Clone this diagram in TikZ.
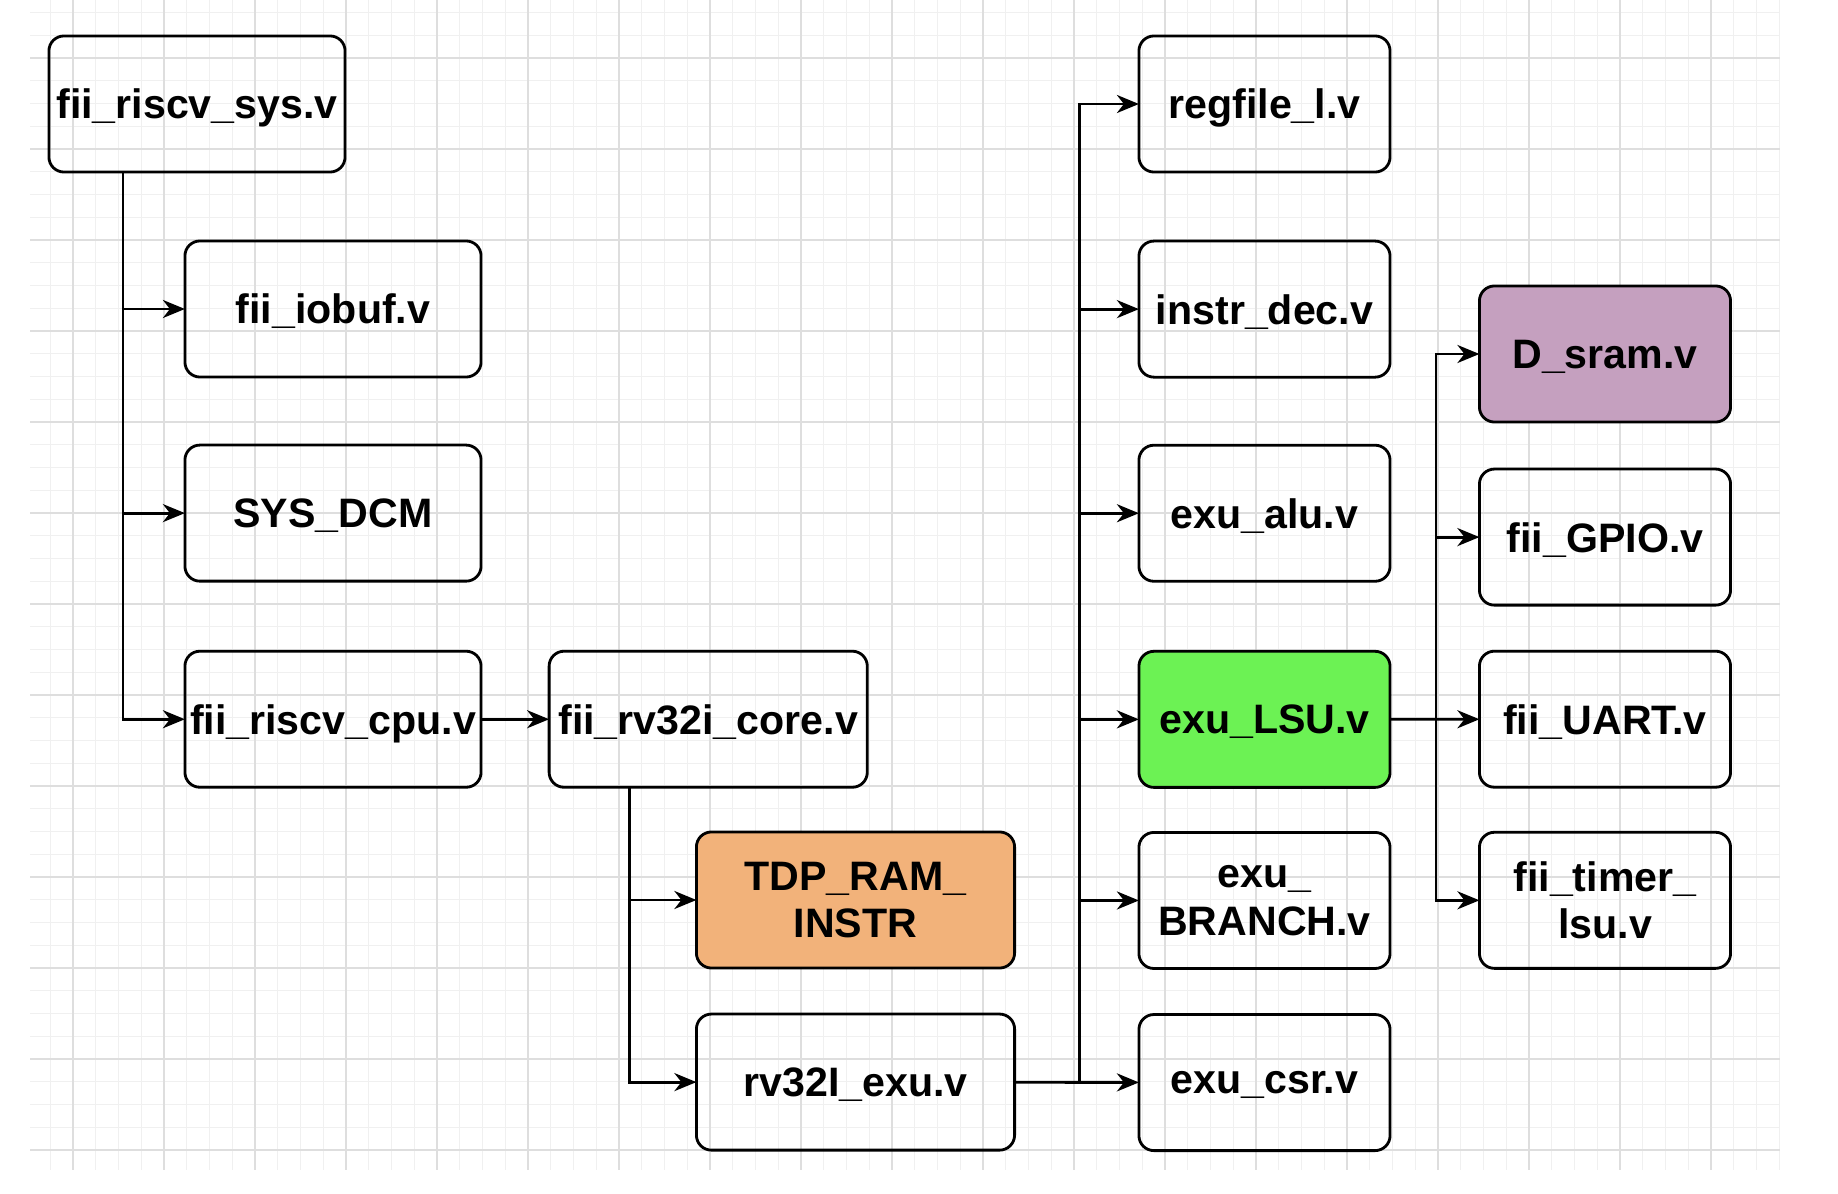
\documentclass[tikz,border=0pt]{standalone}
\usepackage{fontspec}
\setmainfont{Liberation Sans}
\usetikzlibrary{arrows.meta,positioning}

\definecolor{ramorange}{RGB}{242,178,122}
\definecolor{lsugreen}{RGB}{108,242,84}
\definecolor{srampurple}{RGB}{197,160,191}
\definecolor{gridmajor}{RGB}{222,222,222}
\definecolor{gridminor}{RGB}{240,240,240}

\begin{document}
\begin{tikzpicture}[x=0.01cm,y=-0.01cm]
  \tikzset{mod node/.style={rectangle, draw, line width=0.8pt,
		rounded corners=0.15cm, minimum width=2.96cm, minimum height=1.36cm,
		inner sep=0pt, outer sep=0pt, align=center, text depth=0pt,
		font=\bfseries\fontsize{11.7}{13.5}\selectfont}, }
\tikzset{wide node/.style={mod node, minimum width=3.18cm}, }
\tikzset{sub node/.style={mod node, minimum width=2.51cm}, }
\tikzset{linea/.style={-{Stealth[length=0.22cm,width=0.18cm,inset=0.07cm]},
		line width=0.8pt},}
\tikzset{minorgrid/.style={gridminor, line width=0.4pt},}
\tikzset{majorgrid/.style={gridmajor, line width=0.5pt},}
%
\fill[white] (0,0) rectangle (1838,1194);
\useasboundingbox (0,0) rectangle (1838,1194);
% background grid
\foreach \j in {-1,...,75}
  \draw[minorgrid] ({73+22.75*\j},0) -- ({73+22.75*\j},1170);
\foreach \j in {-2,...,48}
  \draw[minorgrid] (30,{58+22.75*\j}) -- (1780,{58+22.75*\j});
\foreach \j in {0,...,18}
  \draw[majorgrid] ({73+91*\j},0) -- ({73+91*\j},1170);
\foreach \j in {0,...,12}
  \draw[majorgrid] (30,{58+91*\j}) -- (1780,{58+91*\j});
%
    \node[mod node] (sys) at (197,104) {fii\_riscv\_sys.v};
    \node[mod node] (iobuf) at (333,309) {fii\_iobuf.v};
    \node[mod node] (dcm) [below=0.68cm of iobuf] {SYS\_DCM};
    \node[mod node] (cpu) [below=0.70cm of dcm] {fii\_riscv\_cpu.v};
    \node[wide node] (core) [right=0.68cm of cpu] {fii\_rv32i\_core.v};
    \node[wide node, fill=ramorange] (tdp) at (855.5,900) {TDP\_RAM\_\\INSTR};
    \node[wide node] (exu) [below=0.46cm of tdp] {rv32I\_exu.v};
   %
    \node[sub node] (regfile) at (1264.5,104) {regfile\_l.v};
    \node[sub node] (dec) [below=0.69cm of regfile] {instr\_dec.v};
    \node[sub node] (alu) [below=0.68cm of dec] {exu\_alu.v};
    \node[sub node, fill=lsugreen] (lsu) [below=0.70cm of alu] {exu\_LSU.v};
    \node[sub node] (branch) [below=0.45cm of lsu] {exu\_\\BRANCH.v};
    \node[sub node] (csr) [below=0.46cm of branch] {exu\_csr.v};
   %
    \node[sub node, fill=srampurple] (dsram) at (1605,354) {D\_sram.v};
    \node[sub node] (gpio) [below=0.47cm of dsram] {fii\_GPIO.v};
    \node[sub node] (uart) [below=0.46cm of gpio] {fii\_UART.v};
    \node[sub node] (timer) [below=0.45cm of uart] {fii\_timer\_\\lsu.v};
%
\path (sys.south west) ++(74,0) coordinate (sysbus);
\path (core.south west) ++(80,0) coordinate (corebus);
\path (exu.east) ++(65,0) coordinate (exubus);
\path (lsu.east) ++(46,0) coordinate (lsubus);
%
\foreach \y in {iobuf,dcm,cpu}
  \draw[linea] (sysbus) |- (\y);
\draw[linea] (cpu) -- (core);
\foreach \y in {tdp,exu}
  \draw[linea] (corebus) |- (\y);
\draw[linea] (exu) -- (csr);
\foreach \y in {regfile,dec,alu,lsu,branch}
  \draw[linea] (exubus) |- (\y);
\draw[linea] (lsu) -- (uart);
\foreach \y in {dsram,gpio,timer}
  \draw[linea] (lsubus) |- (\y);
%
\end{tikzpicture}
\end{document}
